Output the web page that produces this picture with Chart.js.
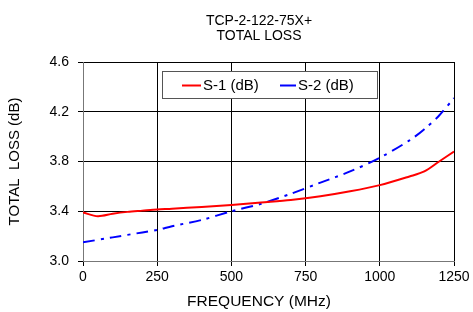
<!DOCTYPE html>
<html>
<head>
<meta charset="utf-8">
<script src="https://cdn.jsdelivr.net/npm/chart.js@4/dist/chart.umd.min.js"></script>
<style>
  html, body { margin: 0; padding: 0; background: #fff; }
  #wrap { width: 473px; height: 312px; }
</style>
</head>
<body>
<div id="wrap"><canvas id="lossChart" width="473" height="312"></canvas></div>
<script>
// Frequencies (MHz) and measured loss (dB)
const s1Freq = [0, 50, 100, 150, 200, 250, 300, 400, 500, 600, 700, 800, 900, 1000, 1100, 1150, 1200, 1250];
const s1Loss = [3.39, 3.36, 3.38, 3.395, 3.405, 3.415, 3.42, 3.435, 3.45, 3.47, 3.49, 3.52, 3.56, 3.61, 3.68, 3.72, 3.80, 3.88];
const s2Freq = [0, 100, 200, 250, 300, 400, 500, 600, 700, 800, 900, 1000, 1100, 1150, 1200, 1250];
const s2Loss = [3.15, 3.19, 3.23, 3.25, 3.28, 3.33, 3.40, 3.46, 3.54, 3.63, 3.72, 3.83, 3.97, 4.06, 4.17, 4.31];
const xTicks = [0, 250, 500, 750, 1000, 1250];
const yTicks = [3.0, 3.4, 3.8, 4.2, 4.6];
const titleLines = ['TCP-2-122-75X+', 'TOTAL LOSS'];
const xTitle = 'FREQUENCY (MHz)';

const FONT = 'Liberation Sans, Arial, sans-serif';

// title and x axis title, centred a bit left of the plot middle like the original
const extraText = {
    id: 'extraText',
    afterDraw(chart) {
        const ctx = chart.ctx;
        ctx.save();
        ctx.fillStyle = '#000';
        ctx.textAlign = 'center';
        ctx.textBaseline = 'middle';
        ctx.font = '14px ' + FONT;
        titleLines.forEach((t, i) => ctx.fillText(t, 259, 21 + i * 15.5));
        ctx.font = '15.5px ' + FONT;
        ctx.fillText(xTitle, 259, 302);
        ctx.restore();
    }
};

// legend drawn as a framed box inside the plot area
const boxLegend = {
    id: 'boxLegend',
    afterDatasetsDraw(chart) {
        const ctx = chart.ctx;
        const x0 = 162, y0 = 71, w = 215, h = 27;
        ctx.save();
        ctx.fillStyle = '#fff';
        ctx.fillRect(x0, y0, w, h);
        ctx.strokeStyle = '#555';
        ctx.lineWidth = 1;
        ctx.strokeRect(x0 + 0.5, y0 + 0.5, w, h);
        ctx.font = '15px ' + FONT;
        ctx.textBaseline = 'middle';
        ctx.fillStyle = '#000';
        const items = [{ x: 182, len: 19 }, { x: 280, len: 16 }];
        chart.data.datasets.forEach((ds, i) => {
            const lx = items[i].x, ly = y0 + h / 2 + 1;
            ctx.strokeStyle = ds.borderColor;
            ctx.lineWidth = 2;
            ctx.setLineDash([]);
            ctx.beginPath();
            ctx.moveTo(lx, ly);
            ctx.lineTo(lx + items[i].len, ly);
            ctx.stroke();
            ctx.fillText(ds.label, lx + items[i].len + 2, ly);
        });
        ctx.restore();
    }
};

const ctx = document.getElementById('lossChart').getContext('2d');
new Chart(ctx, {
    type: 'scatter',
    data: {
        datasets: [{
            label: 'S-1 (dB)',
            data: s1Freq.map((f, i) => ({ x: f, y: s1Loss[i] })),
            borderColor: '#ff0000',
            borderWidth: 2,
            showLine: true,
            pointRadius: 0,
            tension: 0.3
        }, {
            label: 'S-2 (dB)',
            data: s2Freq.map((f, i) => ({ x: f, y: s2Loss[i] })),
            borderColor: '#0000ff',
            borderWidth: 2,
            borderDash: [12, 6, 3, 6],
            showLine: true,
            pointRadius: 0,
            tension: 0.3
        }]
    },
    options: {
        responsive: false,
        animation: false,
        layout: { padding: { left: 0, right: 19, top: 62, bottom: 0 } },
        plugins: {
            legend: { display: false },
            tooltip: { enabled: false },
            title: { display: false }
        },
        scales: {
            x: {
                type: 'linear',
                min: 0,
                max: 1250,
                afterBuildTicks: axis => { axis.ticks = xTicks.map(v => ({ value: v })); },
                afterFit: axis => { axis.height = 51; },
                grid: { color: '#000', lineWidth: 1, tickLength: 5, tickColor: '#000' },
                border: { color: '#777', width: 1 },
                ticks: {
                    color: '#000',
                    font: { family: FONT, size: 14 },
                    padding: 3,
                    maxRotation: 0,
                    callback: v => String(v)
                },
                title: { display: false }
            },
            y: {
                min: 3.0,
                max: 4.6,
                afterBuildTicks: axis => { axis.ticks = yTicks.map(v => ({ value: v })); },
                afterFit: axis => { axis.width = 83; },
                grid: { color: '#000', lineWidth: 1, tickLength: 5, tickColor: '#000' },
                border: { color: '#777', width: 1 },
                ticks: {
                    color: '#000',
                    font: { family: FONT, size: 14 },
                    padding: 9,
                    callback: v => v.toFixed(1)
                },
                title: {
                    display: true,
                    text: 'TOTAL  LOSS (dB)',
                    color: '#000',
                    font: { family: FONT, size: 15 },
                    padding: { top: 6, bottom: 0 }
                }
            }
        }
    },
    plugins: [boxLegend, extraText]
});
</script>
</body>
</html>
